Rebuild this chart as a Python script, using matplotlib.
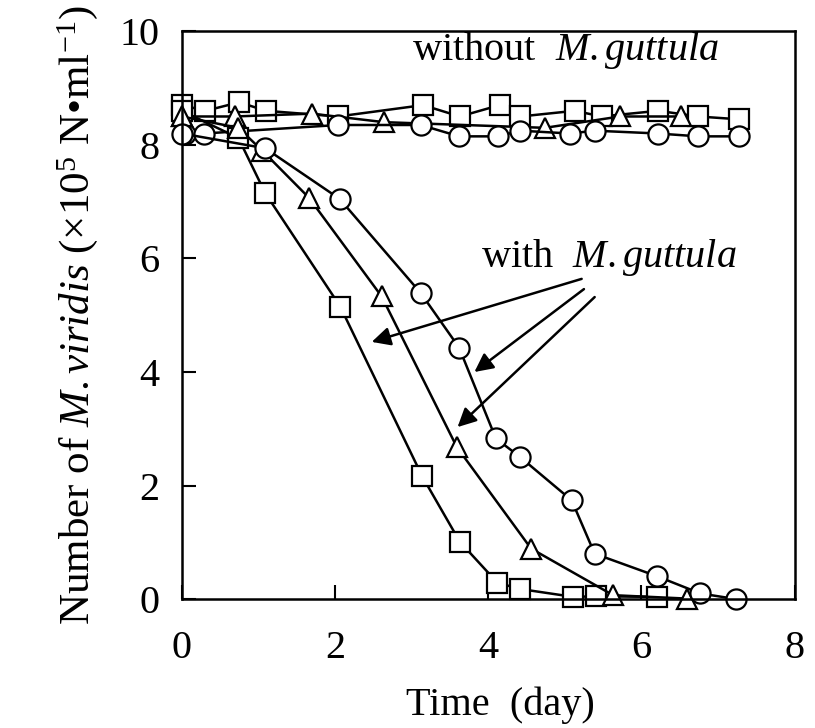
import matplotlib
matplotlib.use("Agg")
import matplotlib.pyplot as plt

plt.rcParams['font.family'] = ['Liberation Serif', 'DejaVu Serif']
plt.rcParams['mathtext.fontset'] = 'custom'
plt.rcParams['mathtext.rm'] = 'Liberation Serif'
plt.rcParams['mathtext.it'] = 'Liberation Serif:italic'

# with M.guttula
sq_with_x = [0.0, 0.74, 1.09, 2.07, 3.14, 3.63, 4.12, 4.41, 5.11, 5.41, 6.21]
sq_with_y = [8.6, 8.12, 7.15, 5.15, 2.16, 1.01, 0.29, 0.18, 0.04, 0.05, 0.04]
tri_with_x = [0.0, 0.74, 1.05, 1.66, 2.61, 3.59, 4.56, 5.63, 6.59]
tri_with_y = [8.5, 8.3, 7.9, 7.07, 5.33, 2.68, 0.89, 0.07, 0.01]
cir_with_x = [0.0, 1.09, 2.06, 3.12, 3.62, 4.10, 4.41, 5.09, 5.39, 6.21, 6.77, 7.24]
cir_with_y = [8.2, 7.94, 7.05, 5.39, 4.43, 2.83, 2.51, 1.74, 0.80, 0.40, 0.10, 0.0]

# without M.guttula
sq_wo_x = [0.0, 0.31, 0.75, 1.10, 2.04, 3.15, 3.63, 4.15, 4.42, 5.13, 5.48, 6.22, 6.74, 7.28]
sq_wo_y = [8.7, 8.6, 8.75, 8.6, 8.5, 8.7, 8.5, 8.7, 8.5, 8.6, 8.5, 8.6, 8.5, 8.45]
tri_wo_x = [0.0, 0.69, 1.70, 2.64, 4.74, 5.72, 6.52]
tri_wo_y = [8.5, 8.5, 8.55, 8.4, 8.3, 8.5, 8.5]
cir_wo_x = [0.04, 0.29, 2.04, 3.12, 3.62, 4.13, 4.42, 5.07, 5.39, 6.22, 6.74, 7.28]
cir_wo_y = [8.2, 8.2, 8.35, 8.35, 8.15, 8.15, 8.25, 8.2, 8.25, 8.2, 8.15, 8.15]

fig = plt.figure(figsize=(8.15, 7.28), dpi=100)
ax = fig.add_axes([0.223, 0.177, 0.752, 0.78])

style = dict(color='k', lw=1.8, mfc='white', mec='k', mew=1.6, ms=14.5, clip_on=False)
ax.plot(sq_wo_x, sq_wo_y, marker='s', **style)
ax.plot(tri_wo_x, tri_wo_y, marker='^', **style)
ax.plot(cir_wo_x, cir_wo_y, marker='o', **style)
ax.plot(sq_with_x, sq_with_y, marker='s', **style)
ax.plot(tri_with_x, tri_with_y, marker='^', **style)
ax.plot(cir_with_x, cir_with_y, marker='o', **style)

ax.text(3.0, 9.5, 'without  $\\mathit{M.guttula}$', fontsize=29)
ax.text(3.9, 5.85, 'with  $\\mathit{M.guttula}$', fontsize=29)

arrow = dict(arrowstyle='-|>', color='k', lw=1.8, mutation_scale=28, shrinkA=0, shrinkB=0)
ax.annotate('', xy=(2.48, 4.53), xytext=(5.22, 5.64), arrowprops=arrow)
ax.annotate('', xy=(3.82, 4.0), xytext=(5.25, 5.46), arrowprops=arrow)
ax.annotate('', xy=(3.60, 3.03), xytext=(5.39, 5.32), arrowprops=arrow)

ax.set_xlim(0, 8)
ax.set_ylim(0, 10)
ax.set_xticks([0, 2, 4, 6, 8])
ax.set_yticks([0, 2, 4, 6, 8, 10])
ax.tick_params(direction='in', length=10, width=1.5, labelsize=29)
ax.tick_params(axis='x', pad=22)
ax.tick_params(axis='y', pad=16)
for s in ax.spines.values():
    s.set_linewidth(1.8)

ax.set_xlabel('Time  (day)', fontsize=29, labelpad=14)
ax.xaxis.label.set_x(0.52)
ax.set_ylabel('Number of $\\mathit{M.viridis}$ (×10$^5$ N•ml$^{-1}$)', fontsize=31, labelpad=14)

fig.savefig('out.png', dpi=100)
